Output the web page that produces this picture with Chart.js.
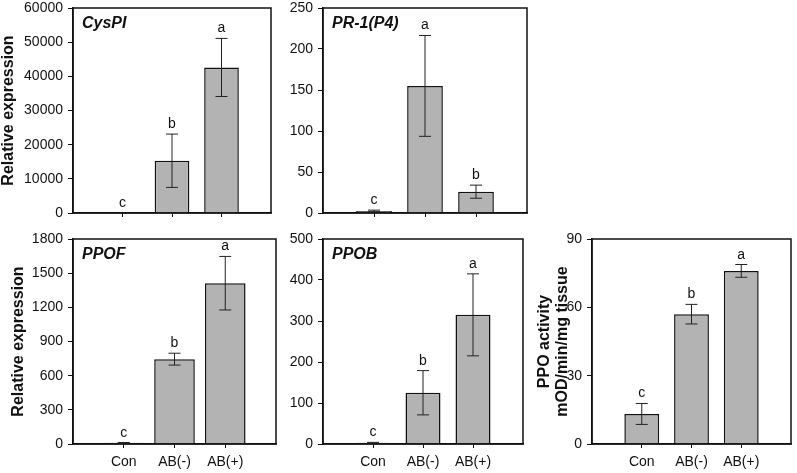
<!DOCTYPE html>
<html><head><meta charset="utf-8">
<script src="https://cdn.jsdelivr.net/npm/chart.js@4/dist/chart.umd.min.js"></script>
<style>
html,body{margin:0;padding:0;background:#fff;width:797px;height:473px;overflow:hidden;position:relative}
canvas{position:absolute}
</style></head><body>
<script>
// ---------- DATA ----------
const categories = ['Con', 'AB(-)', 'AB(+)'];

const cyspiValues  = [80, 15300, 42600];
const cyspiErrors  = [0, 7800, 8500];
const cyspiLetters = ['c', 'b', 'a'];
const cyspiTicks   = [0, 10000, 20000, 30000, 40000, 50000, 60000];

const pr1Values  = [2.5, 155, 26];
const pr1Errors  = [1, 61.5, 8];
const pr1Letters = ['c', 'a', 'b'];
const pr1Ticks   = [0, 50, 100, 150, 200, 250];

const ppofValues  = [10, 745, 1412];
const ppofErrors  = [3, 52, 235];
const ppofLetters = ['c', 'b', 'a'];
const ppofTicks   = [0, 300, 600, 900, 1200, 1500, 1800];

const ppobValues  = [3, 125, 315];
const ppobErrors  = [1, 54, 100];
const ppobLetters = ['c', 'b', 'a'];
const ppobTicks   = [0, 100, 200, 300, 400, 500];

const ppoValues  = [13.2, 57, 76];
const ppoErrors  = [4.6, 4.3, 2.8];
const ppoLetters = ['c', 'b', 'a'];
const ppoTicks   = [0, 30, 60, 90];

// ---------- LAYOUT / STYLE ----------
const FONT = "'Liberation Sans', Arial, sans-serif";
const INK = '#111';
const BAR_FILL = '#b3b3b3';

const panels = [
  {name:'CysPI', yTitle:'Relative expression', values:cyspiValues, errors:cyspiErrors, letters:cyspiLetters, ticks:cyspiTicks,
   left:0, top:-12, w:281, h:240, yW:73, xH:15, padTop:20, padRight:10, titlePad:0, showX:false, barPct:0.7},
  {name:'PR-1(P4)', yTitle:'', values:pr1Values, errors:pr1Errors, letters:pr1Letters, ticks:pr1Ticks,
   left:275, top:-12, w:262, h:240, yW:48, xH:15, padTop:20, padRight:10, titlePad:0, showX:false, barPct:0.7},
  {name:'PPOF', yTitle:'Relative expression', values:ppofValues, errors:ppofErrors, letters:ppofLetters, ticks:ppofTicks,
   left:0, top:219, w:286, h:254, yW:73, xH:29, padTop:20, padRight:10, titlePad:10, showX:true, barPct:0.8},
  {name:'PPOB', yTitle:'', values:ppobValues, errors:ppobErrors, letters:ppobLetters, ticks:ppobTicks,
   left:275, top:219, w:258, h:254, yW:48, xH:29, padTop:20, padRight:10, titlePad:0, showX:true, barPct:0.7},
  {name:'', yTitle:['PPO activity', 'mOD/min/mg tissue'], values:ppoValues, errors:ppoErrors, letters:ppoLetters, ticks:ppoTicks,
   left:530, top:219, w:267, h:254, yW:62, xH:29, padTop:20, padRight:4, titlePad:6, showX:true, barPct:0.7}
];

const framePlugin = {
  id:'frame',
  afterDatasetsDraw(chart, args, opts) {
    const {ctx, chartArea:a} = chart;
    const p = opts.panel;
    const xs = chart.scales.x, ys = chart.scales.y;
    ctx.save();
    // box
    ctx.strokeStyle = INK; ctx.lineWidth = 1.5;
    ctx.strokeRect(a.left, a.top, a.right - a.left, a.bottom - a.top);
    // error bars + letters
    ctx.lineWidth = 1;
    ctx.strokeStyle = '#222';
    ctx.fillStyle = INK;
    ctx.font = '14px ' + FONT;
    ctx.textAlign = 'center';
    ctx.textBaseline = 'alphabetic';
    p.values.forEach((v, i) => {
      const x = xs.getPixelForValue(i + 1);
      const e = p.errors[i];
      const yt = ys.getPixelForValue(v + e);
      const yb = ys.getPixelForValue(Math.max(v - e, 0));
      if (e > 0) {
        ctx.beginPath();
        ctx.moveTo(x, yt); ctx.lineTo(x, yb);
        ctx.moveTo(x - 6, yt); ctx.lineTo(x + 6, yt);
        ctx.moveTo(x - 6, yb); ctx.lineTo(x + 6, yb);
        ctx.stroke();
      }
      ctx.fillText(p.letters[i], x, yt - 6);
    });
    // panel name
    if (p.name) {
      ctx.font = 'italic bold 16px ' + FONT;
      ctx.textAlign = 'left';
      ctx.fillText(p.name, a.left + 9, a.top + 20);
    }
    ctx.restore();
  }
};

function makeChart(p) {
  const cv = document.createElement('canvas');
  cv.width = p.w; cv.height = p.h;
  cv.style.left = p.left + 'px'; cv.style.top = p.top + 'px';
  cv.style.width = p.w + 'px'; cv.style.height = p.h + 'px';
  document.body.appendChild(cv);
  const labels = ['', ...categories, ''];
  const data = [null, ...p.values, null];
  const tickFont = {family: FONT, size: 14};
  new Chart(cv, {
    type: 'bar',
    data: {labels, datasets: [{data, backgroundColor: BAR_FILL, borderColor: INK, borderWidth: 1.5,
      categoryPercentage: 1, barPercentage: p.barPct}]},
    options: {
      responsive: false, animation: false, devicePixelRatio: 1,
      layout: {padding: {top: p.padTop, right: p.padRight, left: 0, bottom: 0}},
      plugins: {legend: {display: false}, tooltip: {enabled: false}, frame: {panel: p}},
      scales: {
        x: {
          type: 'category', offset: false,
          grid: {display: true, offset: false, drawOnChartArea: false, drawTicks: true, tickLength: 4, lineWidth: 1,
            tickColor: ctx => (ctx.index === 0 || ctx.index === labels.length - 1) ? 'rgba(0,0,0,0)' : INK},
          border: {display: true, color: INK, width: 1.5},
          ticks: {display: p.showX, color: INK, font: tickFont, padding: 6, maxRotation: 0, autoSkip: false},
          afterFit: s => { s.height = p.xH; }
        },
        y: {
          min: 0, max: p.ticks[p.ticks.length - 1],
          afterBuildTicks: s => { s.ticks = p.ticks.map(v => ({value: v})); },
          grid: {drawOnChartArea: false, drawTicks: true, tickLength: 5, tickColor: INK, lineWidth: 1},
          border: {display: true, color: INK, width: 1.5},
          ticks: {color: INK, font: tickFont, padding: 5, callback: v => String(v)},
          title: {display: !!p.yTitle, text: p.yTitle, color: INK,
            font: {family: FONT, size: 16, weight: 'bold', lineHeight: 1.1},
            padding: {top: p.titlePad, bottom: 0}},
          afterFit: s => { s.width = p.yW; }
        }
      }
    },
    plugins: [framePlugin]
  });
}
panels.forEach(makeChart);
</script>
</body></html>
